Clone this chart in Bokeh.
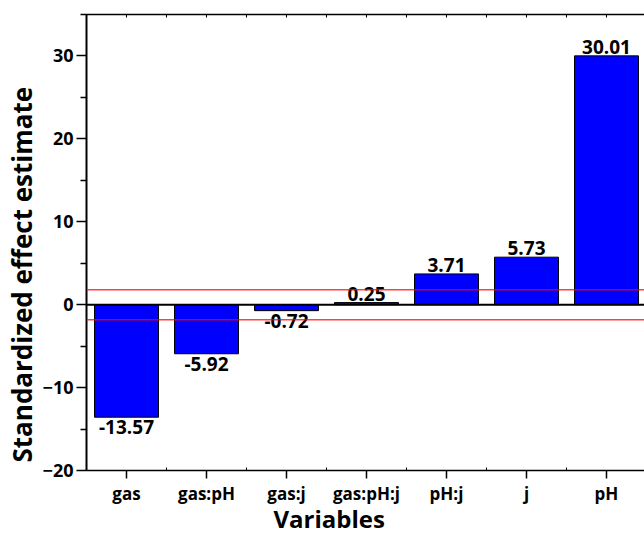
import numpy as np
from bokeh.plotting import figure
from bokeh.models import (ColumnDataSource, Range1d, LinearAxis, FixedTicker,
                          Span, Title)
from bokeh.core.properties import value
from bokeh.embed import file_html
from bokeh.resources import INLINE

categories = ["gas", "gas:pH", "gas:j", "gas:pH:j", "pH:j", "j", "pH"]
effects = [-13.57, -5.92, -0.72, 0.25, 3.71, 5.73, 30.01]
effect_labels = ["-13.57", "-5.92", "-0.72", "0.25", "3.71", "5.73", "30.01"]
threshold = 1.81
y_ticks = [-20, -10, 0, 10, 20, 30]
y_minor = [-15, -5, 5, 15, 25, 35]

FONT = "Open Sans"

xpos = np.arange(len(categories)) + 0.5
effects_arr = np.array(effects)

p = figure(width=644, height=537, output_backend="svg", toolbar_location=None,
           x_range=Range1d(0, 6.975), y_range=Range1d(-20, 35),
           min_border_left=86, min_border_right=0, min_border_top=14,
           min_border_bottom=67, x_axis_location=None, y_axis_location=None)
p.outline_line_color = None
p.xgrid.visible = False
p.ygrid.visible = False
p.background_fill_color = "white"
p.border_fill_color = "white"

src = ColumnDataSource(dict(x=xpos, top=effects_arr, lab=effect_labels))
p.vbar(x="x", top="top", bottom=0, width=0.8, source=src,
       fill_color="#0000ff", line_color="black", line_width=1)

pos = effects_arr > 0
src_pos = ColumnDataSource(dict(x=xpos[pos], y=effects_arr[pos],
                                t=[l for l, k in zip(effect_labels, pos) if k]))
src_neg = ColumnDataSource(dict(x=xpos[~pos], y=effects_arr[~pos],
                                t=[l for l, k in zip(effect_labels, pos) if not k]))
p.text(x="x", y="y", text="t", source=src_pos, text_align="center",
       text_baseline="bottom", y_offset=-2, text_font=value(FONT),
       text_font_style="bold", text_font_size="19px", text_color="black")
p.text(x="x", y="y", text="t", source=src_neg, text_align="center",
       text_baseline="top", y_offset=3, text_font=value(FONT),
       text_font_style="bold", text_font_size="19px", text_color="black")

# zero line and significance lines
p.add_layout(Span(location=0, dimension="width", line_color="black", line_width=2))
for s in (threshold, -threshold):
    p.add_layout(Span(location=s, dimension="width", line_color="red",
                      line_alpha=0.75, line_width=1.5))

# left axis
yax = LinearAxis(ticker=FixedTicker(ticks=y_ticks, minor_ticks=y_minor))
yax.axis_line_width = 2
yax.major_tick_out = 10
yax.major_tick_in = 0
yax.minor_tick_out = 6
yax.minor_tick_in = 0
yax.major_tick_line_width = 1.5
yax.minor_tick_line_width = 1.5
yax.major_label_text_font = FONT
yax.major_label_text_font_style = "bold"
yax.major_label_text_font_size = "18px"
yax.major_label_text_color = "black"
yax.major_label_standoff = 3
p.add_layout(yax, "left")

# bottom axis
xax = LinearAxis(ticker=FixedTicker(ticks=list(xpos),
                                    minor_ticks=list(range(len(categories) + 1))))
xax.major_label_overrides = {float(x): c for x, c in zip(xpos, categories)}
xax.axis_line_width = 1.5
xax.major_tick_out = 8
xax.major_tick_in = 0
xax.minor_tick_out = 0
xax.minor_tick_in = 3
xax.major_tick_line_width = 1.5
xax.major_label_text_font = FONT
xax.major_label_text_font_style = "bold"
xax.major_label_text_font_size = "17px"
xax.major_label_text_color = "black"
xax.major_label_standoff = 3
xax.axis_label_standoff = 0
p.add_layout(xax, "below")

# top axis (frame line with small inner ticks, no labels)
tax = LinearAxis(ticker=FixedTicker(ticks=[], minor_ticks=list(np.arange(0, 7.5, 0.5))))
tax.axis_line_width = 1.5
tax.major_tick_out = 0
tax.major_tick_in = 0
tax.minor_tick_out = 0
tax.minor_tick_in = 3
tax.major_label_standoff = 0
tax.axis_label_standoff = 0
p.add_layout(tax, "above")

# axis titles
ytitle = Title(text="Standardized effect estimate", align="left", offset=8,
               text_font=FONT, text_font_style="bold", text_font_size="26px",
               text_color="black", standoff=0)
p.add_layout(ytitle, "left")
xtitle = Title(text="Variables", align="left", offset=187, vertical_align="top",
               text_font=FONT, text_font_style="bold", text_font_size="24px",
               text_color="black", standoff=-12)
p.add_layout(xtitle, "below")

open("out.html", "w").write(file_html(p, INLINE))
